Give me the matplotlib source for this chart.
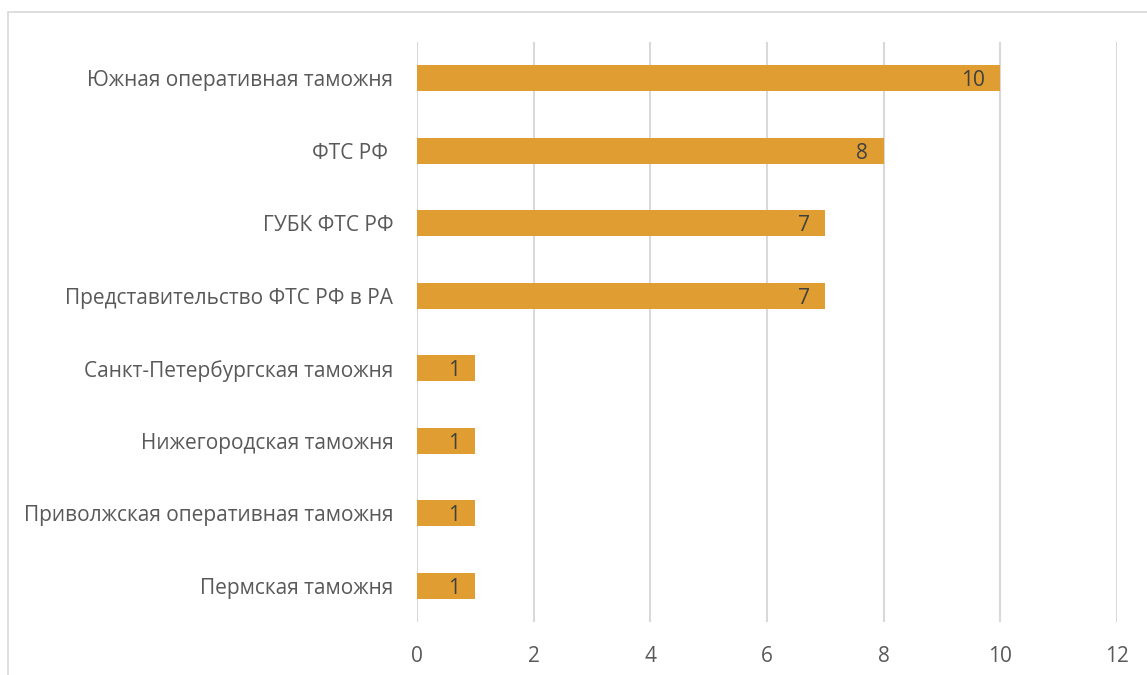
import matplotlib.pyplot as plt
from matplotlib.patches import Rectangle

plt.rcParams['font.family'] = ['Open Sans', 'DejaVu Sans']

# data (top to bottom as in the chart)
categories = ['Южная оперативная таможня', 'ФТС РФ ', 'ГУБК ФТС РФ',
              'Представительство ФТС РФ в РА', 'Санкт-Петербургская таможня',
              'Нижегородская таможня', 'Приволжская оперативная таможня',
              'Пермская таможня']
values = [10, 8, 7, 7, 1, 1, 1, 1]
xticks = [0, 2, 4, 6, 8, 10, 12]

fig = plt.figure(figsize=(11.47, 6.75), dpi=100)
ax = fig.add_axes([0.3636, 0.0785, 0.6102, 0.8592])

pos = list(range(len(categories)))[::-1]
bars = ax.barh(pos, values, height=0.36, color='#E09E32', zorder=3)

for b, v in zip(bars, values):
    ax.annotate(str(v), (b.get_width(), b.get_y() + b.get_height() / 2),
                xytext=(-11, 0), textcoords='offset points',
                ha='right', va='center_baseline', fontsize=15,
                color='#404040', zorder=4)

ax.set_xlim(0, 12)
ax.set_ylim(-0.5, len(categories) - 0.5)
ax.set_xticks(xticks)
ax.set_yticks(pos)
ax.set_yticklabels(categories)
ax.tick_params(axis='both', length=0, labelsize=15, labelcolor='#595959')
ax.tick_params(axis='y', pad=17)
ax.tick_params(axis='x', pad=17)
ax.grid(axis='x', color='#d9d9d9', linewidth=1.5, zorder=0)
for s in ax.spines.values():
    s.set_visible(False)

# chart border
fig.patches.append(Rectangle((8 / 1147, -0.1), 1.2, 1.1 - 12 / 675,
                             transform=fig.transFigure, fill=False,
                             edgecolor='#d9d9d9', linewidth=1.2))

fig.savefig('out.png', dpi=100)
